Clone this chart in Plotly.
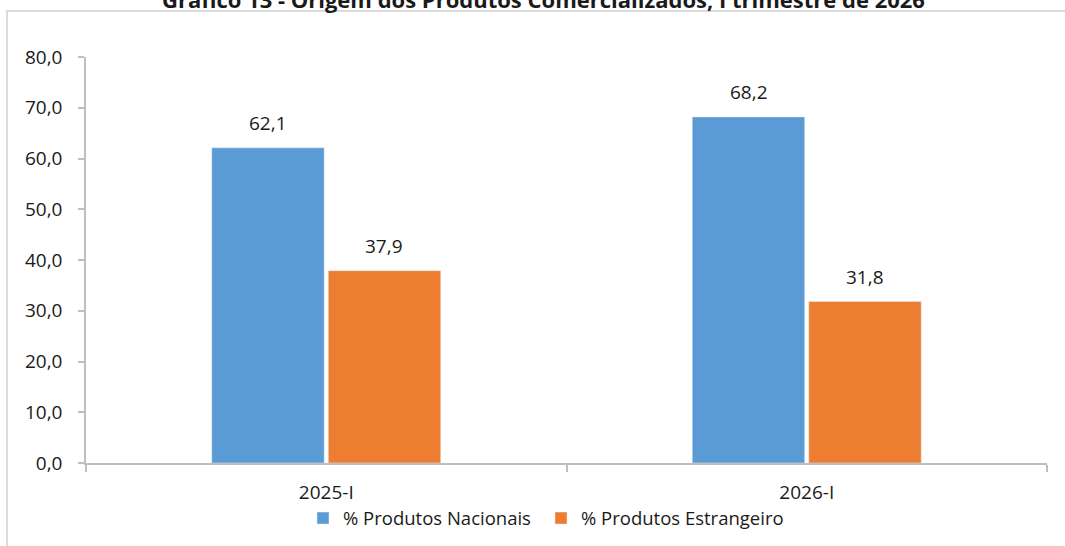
import plotly.graph_objects as go

categories = ["2025-I", "2026-I"]
nacionais = [62.1, 68.2]
estrangeiro = [37.9, 31.8]
series_names = ["% Produtos Nacionais", "% Produtos Estrangeiro"]
title_text = "Gráfico 13 - Origem dos Produtos Comercializados, I trimestre de 2026"

font_family = "Open Sans, Liberation Sans, Arial, sans-serif"
txt_color = "#1a1a1a"

fig = go.Figure()
fig.add_trace(go.Bar(x=categories, y=nacionais, name=series_names[0],
                     marker=dict(color="#5B9BD5"), offsetgroup="a", legend="legend"))
fig.add_trace(go.Bar(x=categories, y=estrangeiro, name=series_names[1],
                     marker=dict(color="#ED7D31"), offsetgroup="b", legend="legend2"))

# data labels (annotations placed on data coordinates)
bar_shift = 0.121  # half slot offset in category units
for i, c in enumerate(categories):
    for vals, off in ((nacionais, -bar_shift), (estrangeiro, bar_shift)):
        fig.add_annotation(x=i + off, y=vals[i], xref="x", yref="y",
                           text=f"{vals[i]:.1f}".replace(".", ","),
                           showarrow=False, yanchor="bottom", yshift=10,
                           font=dict(size=19, color=txt_color, family=font_family))

leg_common = dict(orientation="h", xanchor="left", y=-0.09, yanchor="top",
                  font=dict(size=18.5, color=txt_color), itemwidth=30,
                  bgcolor="rgba(0,0,0,0)")

fig.update_layout(
    width=1065, height=546,
    margin=dict(l=86, r=18, t=57, b=83, autoexpand=False),
    paper_bgcolor="white", plot_bgcolor="white",
    separators=",.",
    barmode="group", bargap=0.515, bargroupgap=0.035,
    font=dict(family=font_family, size=19, color=txt_color),
    title=dict(text="<b>" + title_text + "</b>", x=0.5103, xanchor="center",
               y=1.0, yanchor="middle", yref="container",
               font=dict(size=22, color="#1a1a1a", family=font_family)),
    showlegend=True,
    legend=dict(x=(303 - 86) / 961, **leg_common),
    legend2=dict(x=(541 - 86) / 961, **leg_common),
    xaxis=dict(showline=True, linecolor="#bfbfbf", linewidth=1.5, automargin=False,
               ticks="outside", tickson="boundaries", ticklen=7, tickcolor="#bfbfbf",
               tickwidth=1.5, showgrid=False, ticklabelstandoff=11,
               tickfont=dict(size=19, color=txt_color)),
    yaxis=dict(range=[0, 80], dtick=10, tickformat=".1f", showline=True, automargin=False,
               linecolor="#bfbfbf", linewidth=1.5, ticks="outside", ticklen=6,
               tickcolor="#bfbfbf", tickwidth=1.5, showgrid=False, zeroline=False,
               ticklabelstandoff=12, tickfont=dict(size=19, color=txt_color)),
)

# outer chart border (extends beyond the visible canvas on right and bottom)
fig.add_shape(type="rect", xref="paper", yref="paper",
              x0=(7 - 86) / 961, x1=1.2, y0=-0.5, y1=(463 - 11) / 406,
              line=dict(color="#d0d0d0", width=1.5), fillcolor="rgba(0,0,0,0)",
              layer="below")

fig.write_html("out.html", config={"displayModeBar": False},
               post_script="document.body.style.margin='0';")
